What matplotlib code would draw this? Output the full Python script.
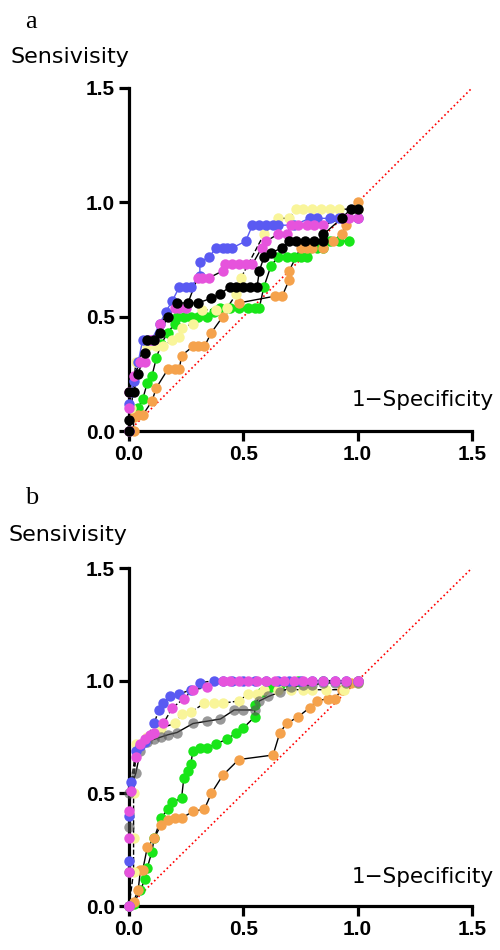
import matplotlib
matplotlib.use('Agg')
import matplotlib.pyplot as plt

# panel a (fpr, tpr) pairs
a_blue_x = [0.0, 0.0, 0.01, 0.02, 0.04, 0.06, 0.08, 0.10, 0.135, 0.16, 0.19, 0.22, 0.25, 0.27, 0.31, 0.31, 0.35, 0.38, 0.41, 0.43, 0.45, 0.51, 0.54, 0.57, 0.60, 0.63, 0.65, 0.72, 0.79, 0.82, 0.88, 0.92, 1.0]
a_blue_y = [0.0, 0.12, 0.17, 0.22, 0.30, 0.40, 0.40, 0.40, 0.47, 0.52, 0.57, 0.63, 0.63, 0.63, 0.68, 0.74, 0.76, 0.80, 0.80, 0.80, 0.80, 0.83, 0.90, 0.90, 0.90, 0.90, 0.90, 0.90, 0.93, 0.93, 0.93, 0.93, 0.93]
a_mag_x = [0.0, 0.0, 0.0, 0.02, 0.05, 0.07, 0.09, 0.11, 0.135, 0.20, 0.22, 0.25, 0.30, 0.32, 0.35, 0.41, 0.42, 0.45, 0.48, 0.51, 0.54, 0.58, 0.60, 0.65, 0.69, 0.71, 0.74, 0.78, 0.81, 0.85, 0.93, 0.96, 1.0]
a_mag_y = [0.0, 0.10, 0.17, 0.24, 0.30, 0.30, 0.40, 0.40, 0.47, 0.54, 0.54, 0.54, 0.67, 0.67, 0.67, 0.70, 0.73, 0.73, 0.73, 0.73, 0.73, 0.80, 0.83, 0.86, 0.86, 0.90, 0.90, 0.90, 0.90, 0.90, 0.93, 0.93, 0.93]
a_yel_x = [0.0, 0.01, 0.03, 0.08, 0.12, 0.15, 0.19, 0.22, 0.23, 0.28, 0.32, 0.38, 0.43, 0.47, 0.49, 0.59, 0.65, 0.70, 0.73, 0.76, 0.80, 0.84, 0.88, 0.92, 1.0]
a_yel_y = [0.0, 0.10, 0.30, 0.37, 0.37, 0.37, 0.40, 0.41, 0.45, 0.47, 0.53, 0.53, 0.54, 0.60, 0.67, 0.86, 0.93, 0.93, 0.97, 0.97, 0.97, 0.97, 0.97, 0.97, 0.97]
a_blk_x = [0.0, 0.0, 0.0, 0.02, 0.04, 0.07, 0.08, 0.11, 0.135, 0.17, 0.21, 0.26, 0.30, 0.36, 0.40, 0.44, 0.47, 0.50, 0.53, 0.56, 0.57, 0.59, 0.62, 0.67, 0.70, 0.73, 0.77, 0.81, 0.85, 0.85, 0.93, 0.97, 1.0]
a_blk_y = [0.0, 0.05, 0.17, 0.17, 0.25, 0.34, 0.40, 0.40, 0.43, 0.50, 0.56, 0.56, 0.56, 0.58, 0.60, 0.63, 0.63, 0.63, 0.63, 0.63, 0.70, 0.76, 0.78, 0.80, 0.83, 0.83, 0.83, 0.83, 0.83, 0.86, 0.93, 0.97, 0.97]
a_grn_x = [0.0, 0.02, 0.04, 0.06, 0.08, 0.10, 0.12, 0.14, 0.17, 0.20, 0.21, 0.24, 0.27, 0.30, 0.34, 0.37, 0.40, 0.44, 0.48, 0.52, 0.55, 0.57, 0.59, 0.62, 0.65, 0.69, 0.72, 0.75, 0.78, 0.79, 0.82, 0.85, 0.88, 0.92, 0.96]
a_grn_y = [0.0, 0.09, 0.10, 0.14, 0.21, 0.24, 0.32, 0.38, 0.43, 0.47, 0.50, 0.50, 0.50, 0.50, 0.50, 0.52, 0.54, 0.54, 0.54, 0.54, 0.54, 0.54, 0.63, 0.72, 0.76, 0.76, 0.76, 0.76, 0.76, 0.80, 0.80, 0.80, 0.83, 0.83, 0.83]
a_org_x = [0.0, 0.02, 0.02, 0.04, 0.06, 0.10, 0.12, 0.17, 0.20, 0.22, 0.23, 0.28, 0.30, 0.33, 0.36, 0.41, 0.48, 0.64, 0.67, 0.70, 0.70, 0.75, 0.78, 0.80, 0.85, 0.89, 0.93, 0.95, 1.0]
a_org_y = [0.0, 0.0, 0.06, 0.07, 0.07, 0.13, 0.19, 0.27, 0.27, 0.27, 0.33, 0.37, 0.37, 0.37, 0.43, 0.50, 0.56, 0.59, 0.59, 0.66, 0.70, 0.80, 0.80, 0.80, 0.80, 0.83, 0.86, 0.90, 1.0]

# panel b
b_blue_x = [0.0, 0.0, 0.0, 0.01, 0.03, 0.05, 0.07, 0.11, 0.13, 0.15, 0.18, 0.22, 0.27, 0.31, 0.37, 0.41, 0.45, 0.50, 0.55, 0.60, 0.65, 0.70, 0.75, 0.80, 0.85, 0.90, 0.95, 1.0]
b_blue_y = [0.0, 0.20, 0.40, 0.55, 0.69, 0.71, 0.73, 0.81, 0.87, 0.90, 0.93, 0.94, 0.96, 0.99, 1.0, 1.0, 1.0, 1.0, 1.0, 1.0, 1.0, 1.0, 1.0, 1.0, 1.0, 1.0, 1.0, 1.0]
b_mag_x = [0.0, 0.0, 0.0, 0.0, 0.01, 0.03, 0.05, 0.07, 0.09, 0.11, 0.15, 0.19, 0.24, 0.28, 0.34, 0.41, 0.44, 0.48, 0.52, 0.56, 0.60, 0.64, 0.68, 0.72, 0.76, 0.80, 0.85, 0.90, 0.95, 1.0]
b_mag_y = [0.0, 0.15, 0.30, 0.42, 0.51, 0.66, 0.72, 0.74, 0.76, 0.77, 0.81, 0.88, 0.92, 0.96, 0.97, 1.0, 1.0, 1.0, 1.0, 1.0, 1.0, 1.0, 1.0, 1.0, 1.0, 1.0, 1.0, 1.0, 1.0, 1.0]
b_yel_x = [0.0, 0.02, 0.02, 0.02, 0.03, 0.08, 0.14, 0.20, 0.23, 0.27, 0.33, 0.37, 0.41, 0.48, 0.52, 0.56, 0.59, 0.65, 0.71, 0.76, 0.80, 0.86, 0.94, 1.0]
b_yel_y = [0.0, 0.15, 0.30, 0.50, 0.72, 0.75, 0.79, 0.81, 0.85, 0.86, 0.90, 0.90, 0.90, 0.91, 0.94, 0.94, 0.96, 0.96, 0.96, 0.96, 0.96, 0.96, 0.96, 0.99]
b_gry_x = [0.0, 0.0, 0.0, 0.0, 0.03, 0.05, 0.08, 0.11, 0.14, 0.17, 0.21, 0.28, 0.34, 0.40, 0.46, 0.50, 0.55, 0.57, 0.61, 0.66, 0.71, 0.76, 0.80, 0.85, 0.90, 0.95, 1.0]
b_gry_y = [0.0, 0.15, 0.35, 0.50, 0.59, 0.69, 0.73, 0.74, 0.75, 0.76, 0.77, 0.81, 0.82, 0.83, 0.87, 0.87, 0.87, 0.91, 0.93, 0.95, 0.97, 0.98, 0.98, 0.99, 0.99, 0.99, 0.99]
b_grn_x = [0.0, 0.02, 0.05, 0.07, 0.08, 0.10, 0.11, 0.14, 0.17, 0.19, 0.23, 0.24, 0.26, 0.27, 0.28, 0.31, 0.34, 0.38, 0.43, 0.47, 0.50, 0.55, 0.55, 0.58, 0.62, 0.66, 0.70, 0.74, 0.85, 1.0]
b_grn_y = [0.0, 0.01, 0.07, 0.12, 0.17, 0.24, 0.30, 0.39, 0.43, 0.46, 0.48, 0.57, 0.60, 0.63, 0.69, 0.70, 0.70, 0.72, 0.74, 0.77, 0.79, 0.84, 0.89, 0.95, 0.97, 0.98, 0.99, 1.0, 1.0, 1.0]
b_org_x = [0.0, 0.02, 0.04, 0.05, 0.06, 0.08, 0.11, 0.14, 0.17, 0.20, 0.23, 0.28, 0.33, 0.36, 0.41, 0.48, 0.63, 0.66, 0.69, 0.74, 0.79, 0.82, 0.87, 0.90, 0.93, 0.97, 1.0]
b_org_y = [0.0, 0.02, 0.07, 0.16, 0.16, 0.26, 0.30, 0.36, 0.38, 0.39, 0.39, 0.42, 0.43, 0.50, 0.58, 0.65, 0.67, 0.77, 0.81, 0.84, 0.88, 0.91, 0.92, 0.92, 0.96, 0.99, 1.0]

ticks = [0.0, 0.5, 1.0, 1.5]
tick_labels = ['0.0', '0.5', '1.0', '1.5']

blue = '#5a5af2'
magenta = '#e653dc'
yellow = '#f9f59a'
green = '#19e619'
orange = '#f5a24c'

plt.rcParams['font.family'] = ['Liberation Sans', 'DejaVu Sans']

fig = plt.figure(figsize=(5.0, 9.5), dpi=100)


def style_axis(ax):
    ax.set_xlim(0, 1.5)
    ax.set_ylim(0, 1.5)
    ax.spines['top'].set_visible(False)
    ax.spines['right'].set_visible(False)
    for s in ['left', 'bottom']:
        ax.spines[s].set_linewidth(2.3)
    ax.tick_params(direction='out', length=7, width=2.3, pad=3)
    ax.set_xticks(ticks)
    ax.set_yticks(ticks)
    ax.set_xticklabels(tick_labels, fontsize=15, fontweight='bold')
    ax.set_yticklabels(tick_labels, fontsize=15, fontweight='bold')
    ax.plot([0, 1.5], [0, 1.5], color='red', linestyle=':', linewidth=1.2, zorder=1)


def curve(ax, x, y, color, lcolor='black', ls='-', alpha=1.0):
    ax.plot(x, y, color=lcolor, linewidth=1.0, linestyle=ls, zorder=2, clip_on=False)
    ax.plot(x, y, linestyle='none', marker='o', markersize=7.5, markerfacecolor=color,
            markeredgewidth=0, alpha=alpha, zorder=3, clip_on=False)


# panel a
ax1 = fig.add_axes([0.258, 0.5463, 0.686, 0.3611])
style_axis(ax1)
curve(ax1, a_grn_x, a_grn_y, green)
curve(ax1, a_org_x, a_org_y, orange)
curve(ax1, a_yel_x, a_yel_y, yellow, ls='--')
curve(ax1, a_blue_x, a_blue_y, blue, lcolor=blue)
curve(ax1, a_mag_x, a_mag_y, magenta)
curve(ax1, a_blk_x, a_blk_y, 'black')

# panel b
ax2 = fig.add_axes([0.258, 0.0463, 0.686, 0.3558])
style_axis(ax2)
curve(ax2, b_grn_x, b_grn_y, green)
curve(ax2, b_org_x, b_org_y, orange)
curve(ax2, b_yel_x, b_yel_y, yellow, ls='--')
curve(ax2, b_gry_x, b_gry_y, '#555555', alpha=0.6)
curve(ax2, b_blue_x, b_blue_y, blue, ls='--')
curve(ax2, b_mag_x, b_mag_y, magenta, ls='--')

fig.text(0.050, 0.977, 'a', fontsize=19, family=['Liberation Serif'], va='center')
fig.text(0.022, 0.940, 'Sensivisity', fontsize=16, family=['DejaVu Sans'], va='center')
fig.text(0.703, 0.579, '1\u2212Specificity', fontsize=15.5, family=['DejaVu Sans'], va='center')
fig.text(0.050, 0.476, 'b', fontsize=19, family=['Liberation Serif'], va='center')
fig.text(0.018, 0.437, 'Sensivisity', fontsize=16, family=['DejaVu Sans'], va='center')
fig.text(0.703, 0.077, '1\u2212Specificity', fontsize=15.5, family=['DejaVu Sans'], va='center')

plt.savefig('out.png', dpi=100)
